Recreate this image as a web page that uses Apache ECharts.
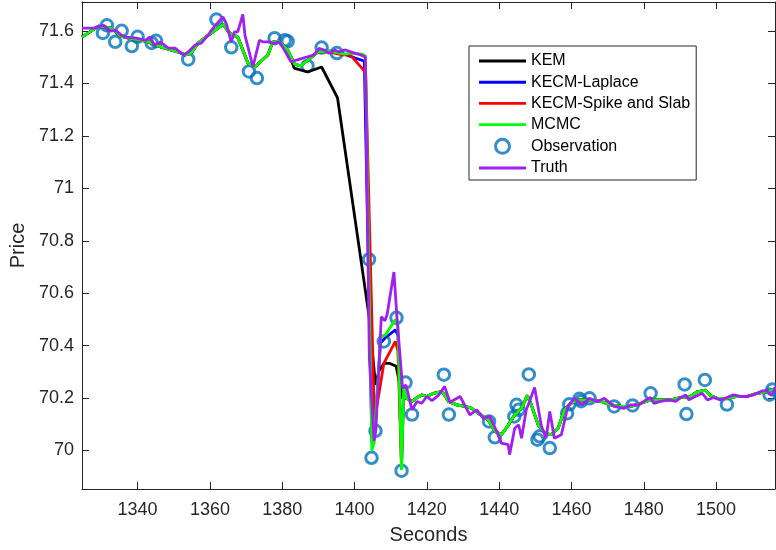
<!DOCTYPE html>
<html><head><meta charset="utf-8">
<script src="https://cdn.jsdelivr.net/npm/echarts@6/dist/echarts.min.js"></script>
<style>html,body{margin:0;padding:0;background:#fff}#c{width:776px;height:550px}</style>
</head><body><div id="c"></div>
<script>
const FONT = "'Liberation Sans', Arial, Helvetica, sans-serif";
const AX = '#262626';

// Observations
const obsT = [1330.4,1331.5,1333.8,1335.6,1338.4,1340.0,1343.9,1345.1,1354.0,1361.8,1365.9,1370.8,1373.0,1377.9,1380.7,1381.5,1387.0,1390.9,1395.1,1404.0,1404.7,1405.8,1408.1,1411.6,1413.0,1414.1,1415.9,1424.7,1426.1,1437.2,1438.8,1444.2,1444.8,1445.4,1448.2,1450.6,1451.2,1454.0,1458.8,1459.4,1462.2,1462.7,1465.0,1471.8,1476.9,1481.9,1491.3,1491.8,1496.9,1503.0,1514.8,1515.6];
const obsV = [71.593,71.622,71.559,71.601,71.543,71.578,71.555,71.563,71.492,71.644,71.538,71.446,71.421,71.573,71.565,71.561,71.467,71.537,71.516,70.729,69.972,70.075,70.416,70.506,69.923,70.259,70.137,70.289,70.137,70.111,70.050,70.130,70.174,70.155,70.290,70.041,70.054,70.009,70.142,70.176,70.197,70.188,70.199,70.168,70.172,70.218,70.252,70.139,70.269,70.175,70.213,70.233];

// Shared estimator track before the jump
const estPreT = [1324.6,1329.2,1332.8,1335.3,1337.5,1342.2,1346.6,1351.3,1353.2,1354.8,1356.7,1359.5,1361.4,1363.6,1365.5,1367.7,1370.5,1372.4,1376.0,1377.4,1379.0,1381.5];
const estPreV = [71.577,71.619,71.611,71.581,71.573,71.562,71.539,71.520,71.509,71.516,71.554,71.584,71.603,71.626,71.592,71.577,71.478,71.463,71.509,71.558,71.562,71.528];

// Shared estimator track after the jump
const estPostT = [1414.3,1415.9,1417.3,1418.6,1420.0,1421.9,1423.7,1424.6,1426.0,1428.3,1430.6,1432.4,1434.2,1437.0,1438.8,1440.6,1442.5,1444.3,1446.2,1447.8,1448.9,1450.8,1452.6,1454.4,1456.3,1458.1,1459.9,1461.8,1464.5,1468.2,1470.9,1473.7,1476.4,1479.2,1481.9,1484.7,1487.4,1490.2,1493.0,1494.8,1497.1,1498.4,1500.3,1503.0,1505.8,1508.5,1511.3,1514.0,1516.6];
const estPostV = [70.200,70.187,70.202,70.212,70.206,70.218,70.224,70.218,70.187,70.174,70.168,70.161,70.142,70.117,70.073,70.060,70.096,70.136,70.161,70.210,70.174,70.098,70.066,70.060,70.085,70.155,70.180,70.193,70.193,70.187,70.174,70.168,70.168,70.180,70.193,70.193,70.193,70.202,70.206,70.224,70.230,70.210,70.199,70.199,70.206,70.206,70.218,70.224,70.237];

// KEM around the jump
const kemMidT = [1383.3,1387.0,1390.9,1395.3,1404.0,1405.8,1406.7,1408.1,1409.8,1411.5,1413.3];
const kemMidV = [71.459,71.444,71.463,71.345,70.514,70.250,70.302,70.332,70.332,70.321,70.199];

// KECM-Laplace around the jump
const lapMidT = [1383.4,1385.1,1387.8,1389.8,1393.3,1397.2,1400.2,1402.7,1403.1,1404.8,1405.4,1407.2,1408.5,1411.3,1412.0,1413.0,1413.6];
const lapMidV = [71.474,71.467,71.497,71.520,71.524,71.512,71.497,71.486,71.480,70.030,70.050,70.410,70.430,70.460,70.440,69.950,70.230];

// KECM-Spike and Slab around the jump
const ssMidT = [1383.4,1385.1,1387.8,1389.8,1393.3,1396.6,1398.8,1402.7,1403.1,1405.5,1408.1,1411.3,1412.0,1413.0,1413.6];
const ssMidV = [71.474,71.467,71.497,71.520,71.520,71.509,71.509,71.448,71.430,70.110,70.332,70.416,70.380,69.930,70.220];

// MCMC around the jump
const mcmcMidT = [1383.4,1385.1,1387.8,1389.8,1393.3,1397.2,1398.8,1402.2,1403.0,1404.8,1405.4,1407.2,1408.5,1411.3,1412.0,1413.0,1413.6];
const mcmcMidV = [71.474,71.467,71.497,71.520,71.524,71.512,71.516,71.512,71.505,70.000,70.030,70.430,70.440,70.500,70.480,69.926,70.240];

// Truth
const truthT = [1324.6,1327.8,1330.6,1332.5,1333.9,1335.6,1336.9,1339.7,1342.2,1343.5,1344.6,1346.3,1348.5,1350.4,1352.6,1354.0,1355.9,1357.6,1359.5,1360.4,1362.7,1363.6,1364.5,1365.9,1366.8,1367.7,1369.1,1369.7,1371.9,1373.7,1374.6,1376.0,1377.8,1379.2,1380.6,1382.4,1384.2,1387.0,1388.8,1390.2,1391.6,1392.9,1394.4,1395.7,1397.5,1398.9,1400.3,1401.7,1403.0,1404.1,1405.4,1405.9,1407.4,1408.4,1409.0,1410.9,1411.8,1413.3,1414.2,1415.9,1417.3,1418.6,1420.0,1421.4,1423.2,1424.9,1426.4,1429.2,1431.9,1433.8,1435.6,1437.4,1439.3,1440.6,1442.5,1442.9,1444.3,1445.4,1446.2,1447.5,1448.4,1449.8,1451.7,1453.0,1454.0,1455.3,1457.2,1459.0,1460.8,1463.1,1464.9,1467.3,1469.1,1471.8,1474.6,1476.4,1478.7,1480.6,1481.9,1482.8,1484.7,1487.0,1488.8,1490.2,1491.6,1492.5,1494.3,1496.2,1497.6,1499.3,1501.2,1503.0,1504.8,1506.7,1508.5,1510.3,1512.7,1514.0,1515.4,1516.6];
const truthV = [71.611,71.611,71.622,71.600,71.603,71.584,71.577,71.573,71.565,71.577,71.547,71.558,71.535,71.535,71.509,71.520,71.547,71.554,71.584,71.603,71.641,71.654,71.629,71.559,71.597,71.597,71.664,71.584,71.464,71.565,71.559,71.559,71.553,71.559,71.528,71.483,71.490,71.502,71.509,71.534,71.528,71.515,71.528,71.521,71.528,71.521,71.515,71.509,71.501,70.351,70.036,70.078,70.510,70.495,70.518,70.681,70.495,70.237,70.250,70.155,70.187,70.180,70.206,70.190,70.210,70.244,70.184,70.206,70.136,70.155,70.123,70.130,70.073,70.028,70.022,69.984,70.085,70.098,70.047,70.155,70.187,70.240,70.092,70.047,70.149,70.047,70.060,70.168,70.199,70.174,70.199,70.187,70.199,70.168,70.161,70.174,70.174,70.193,70.202,70.180,70.187,70.193,70.187,70.202,70.212,70.193,70.206,70.218,70.193,70.202,70.193,70.202,70.212,70.206,70.206,70.212,70.227,70.227,70.212,70.244];

// Axis extents and tick spacing
const xMin = 1324.6, xMax = 1516.3;
const yMin = 69.853, yMax = 71.711;
const xStep = 20, yStep = 0.2;

const pairs = (T, V) => T.map((t, i) => [t, V[i]]);
const kemData = pairs(estPreT, estPreV).concat(pairs(kemMidT, kemMidV), pairs(estPostT, estPostV));
const lapData = pairs(estPreT, estPreV).concat(pairs(lapMidT, lapMidV), pairs(estPostT, estPostV));
const ssData = pairs(estPreT, estPreV).concat(pairs(ssMidT, ssMidV), pairs(estPostT, estPostV));
const mcmcData = pairs(estPreT, estPreV).concat(pairs(mcmcMidT, mcmcMidV), pairs(estPostT, estPostV));
const obsData = pairs(obsT, obsV);
const truthData = pairs(truthT, truthV);

const onStep = (v, s) => Math.abs(v / s - Math.round(v / s)) < 1e-6;

const chart = echarts.init(document.getElementById('c'), null, {renderer: 'canvas'});
const lineSeries = (name, color, data) => ({
  name, type: 'line', data, color, symbol: 'none', showSymbol: false,
  lineStyle: {color, width: 2.8}, animation: false, clip: true
});
const barIcon = 'path://M0,0h48v3h-48z';
chart.setOption({
  animation: false,
  textStyle: {fontFamily: FONT},
  grid: {left: 78, right: 1, top: 2, bottom: 59, containLabel: false},
  xAxis: [{
    type: 'value', min: xMin, max: xMax, splitNumber: 10,
    name: 'Seconds', nameLocation: 'middle', nameGap: 36,
    nameTextStyle: {fontFamily: FONT, fontSize: 20, color: AX},
    axisLine: {show: true, onZero: false, lineStyle: {color: AX, width: 1}},
    axisTick: {show: true, inside: true, length: 7, lineStyle: {color: AX}},
    axisLabel: {show: true, margin: 12, fontFamily: FONT, fontSize: 18, color: AX,
      showMinLabel: false, showMaxLabel: false,
      formatter: v => onStep(v, xStep) ? String(Math.round(v)) : ''},
    splitLine: {show: false}
  }, {
    type: 'value', min: xMin, max: xMax, splitNumber: 10, position: 'top',
    axisLine: {show: true, onZero: false, lineStyle: {color: AX, width: 1}},
    axisTick: {show: true, inside: true, length: 7, lineStyle: {color: AX}},
    axisLabel: {show: false}, splitLine: {show: false}
  }],
  yAxis: [{
    type: 'value', min: yMin, max: yMax, splitNumber: 9,
    name: 'Price', nameLocation: 'middle', nameGap: 48,
    nameTextStyle: {fontFamily: FONT, fontSize: 20, color: AX},
    axisLine: {show: true, onZero: false, lineStyle: {color: AX, width: 1}},
    axisTick: {show: true, inside: true, length: 7, lineStyle: {color: AX}},
    axisLabel: {show: true, margin: 8, fontFamily: FONT, fontSize: 18, color: AX,
      showMinLabel: false, showMaxLabel: false,
      formatter: v => onStep(v, yStep) ? String(Math.round(v * 10) / 10) : ''},
    splitLine: {show: false}
  }, {
    type: 'value', min: yMin, max: yMax, splitNumber: 9, position: 'right',
    axisLine: {show: true, onZero: false, lineStyle: {color: AX, width: 1}},
    axisTick: {show: true, inside: true, length: 7, lineStyle: {color: AX}},
    axisLabel: {show: false}, splitLine: {show: false}
  }],
  legend: {
    orient: 'vertical', left: 469, top: 46, padding: [7, 6, 4, 10], itemGap: 5.2,
    itemWidth: 47, itemHeight: 14, backgroundColor: '#fff', borderColor: AX, borderWidth: 1,
    selectedMode: false, symbolKeepAspect: true,
    textStyle: {fontFamily: FONT, fontSize: 16, color: '#000'},
    data: [
      {name: 'KEM', icon: barIcon, itemStyle: {borderWidth: 0}},
      {name: 'KECM-Laplace', icon: barIcon, itemStyle: {borderWidth: 0}},
      {name: 'KECM-Spike and Slab', icon: barIcon, itemStyle: {borderWidth: 0}},
      {name: 'MCMC', icon: barIcon, itemStyle: {borderWidth: 0}},
      {name: 'Observation', icon: 'circle', itemStyle: {color: 'rgba(0,0,0,0)', borderColor: '#0072BD', borderWidth: 3}},
      {name: 'Truth', icon: barIcon, itemStyle: {borderWidth: 0}}
    ]
  },
  series: [
    lineSeries('KEM', '#000000', kemData),
    lineSeries('KECM-Laplace', '#0000FF', lapData),
    lineSeries('KECM-Spike and Slab', '#FF0000', ssData),
    lineSeries('MCMC', '#00FF00', mcmcData),
    {name: 'Observation', type: 'scatter', data: obsData, symbol: 'circle', symbolSize: 11.5,
      color: '#0072BD',
      itemStyle: {color: 'rgba(0,0,0,0)', borderColor: '#0072BD', borderWidth: 3}, animation: false},
    lineSeries('Truth', '#A020F0', truthData)
  ]
});
</script></body></html>
